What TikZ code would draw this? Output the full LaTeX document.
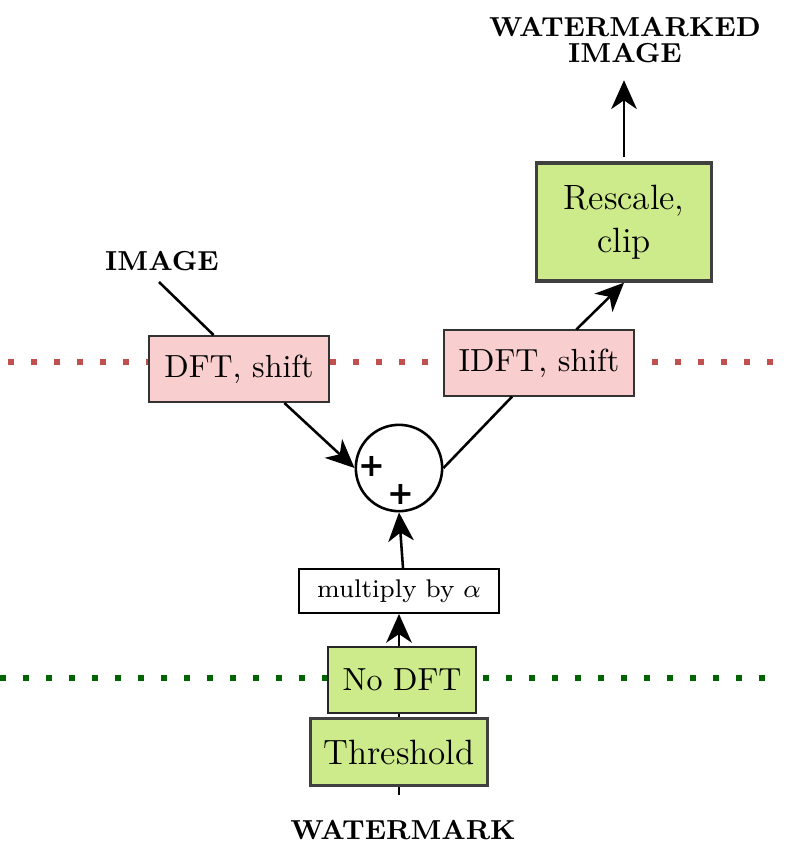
\documentclass[tikz,border=0pt]{standalone}
\usepackage{amsmath}
\usepackage{fontspec}
\usepackage{tikz}
\usetikzlibrary{calc,arrows.meta}
\newfontfamily\plusfont{DejaVu Sans}
\newcommand{\pixel}{0.011cm}
\definecolor{dftred}{RGB}{249,206,206}
\definecolor{boxgreen}{RGB}{205,235,139}
\definecolor{dotred}{RGB}{192,80,77}
\definecolor{dotgreen}{RGB}{0,100,0}
\tikzset{
	flow/.style={line width=0.8pt, -{Stealth[length=9pt,width=8pt,inset=2.7pt]}},
	wire/.style={line width=0.8pt},
	dftbox/.style={draw=black!80, fill=dftred, line width=0.5pt, inner sep=0pt},
	greenbox/.style={draw=black!75, fill=boxgreen, line width=1pt, inner sep=0pt, align=center, font=\fontsize{11}{13.5}\selectfont},
	tag/.style={font=\fontsize{8.6}{10}\selectfont\bfseries, align=center},
	plus/.style={font=\plusfont\bfseries, inner sep=0pt},
	freq/.style={line width=2pt, dash pattern=on 2pt off 5.2pt}
}

\begin{document}
\begin{tikzpicture}[x=\pixel,y=-\pixel]
	\useasboundingbox (0,0) rectangle (807,848);
	% separators between image and frequency domain
	\coordinate (redL) at (8,362);
	\coordinate (redR) at (785,362);
	\coordinate (greenL) at (0,678);
	\coordinate (greenR) at (772,678);
	\draw[freq, dotred] (redL) -- (redR);
	\draw[freq, dotgreen] (greenL) -- (greenR);

	\node[dftbox, minimum width=1.98cm, minimum height=0.73cm] (DFT) at (239,369) {DFT, shift};
	\node[dftbox, minimum width=2.09cm, minimum height=0.72cm] (IDFT) at (539,363) {IDFT, shift};
	\node[greenbox, minimum width=1.93cm, minimum height=1.3cm] (rescale) at (624,222) {Rescale,\\clip};
	\node[draw, fill=white, line width=0.7pt, minimum width=2.2cm, minimum height=0.48cm, inner sep=0pt] (alpha) at (399,591) {\footnotesize multiply by $\alpha$};
	\node[greenbox, draw=black!85, line width=0.5pt, minimum width=1.63cm, minimum height=0.72cm, font=\normalsize] (nodft) at (402,680) {No DFT};
	\node[greenbox, minimum width=1.94cm, minimum height=0.73cm] (threshold) at (399,752) {Threshold};
	\node[draw, circle, line width=0.8pt, minimum size=0.95cm] (sum) at (399,468) {};
	\node[plus] (plusA) at (372,466) {+};
	\node[plus] (plusB) at (401,494) {+};

	\node[tag] (image) at (162,261) {IMAGE};
	\node[tag] (marked) at (625,40) {WATERMARKED\\[-2pt]IMAGE};
	\node[tag] (mark) at (403,830) {WATERMARK};
	\coordinate (imagefoot) at (159,282);
	\coordinate (markhead) at (399,795);
	\coordinate (rescaletop) at (624,157);

	\draw[wire] (imagefoot) -- ($(DFT.north)!0.28!(DFT.north west)$);
	\draw[flow] ($(DFT.south)!0.5!(DFT.south east)$) -- (sum.west);
	\draw[wire] (sum.east) -- ($(IDFT.south)!0.28!(IDFT.south west)$);
	\draw[flow] ($(IDFT.north)!0.39!(IDFT.north east)$) -- (rescale.south);
	\draw[flow, shorten >=2pt] (rescaletop) -- (rescaletop |- marked.south);
	\draw[wire] (markhead) -- (threshold.south);
	\draw[wire] (threshold.north) -- (threshold.north |- nodft.south);
	\draw[flow] (alpha.south |- nodft.north) -- (alpha.south);
	\draw[flow] ($(alpha.north)+(4,0)$) -- (sum.south);
\end{tikzpicture}
\end{document}
